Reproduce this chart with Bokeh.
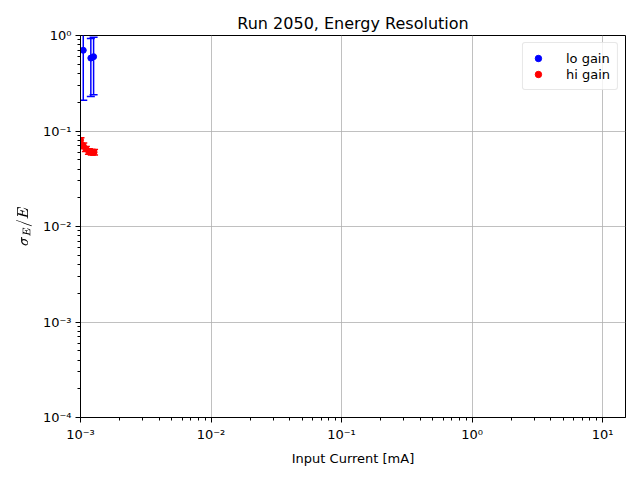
from bokeh.plotting import figure
from bokeh.models import (ColumnDataSource, Whisker, TeeHead, FixedTicker,
                          CustomJSTickFormatter, Range1d, Legend, LegendItem)
from bokeh.embed import file_html
from bokeh.resources import INLINE

# data
lo_x = [1.05e-3, 1.20e-3, 1.26e-3]
lo_y = [0.70, 0.58, 0.60]
lo_err = [0.49, 0.35, 0.36]

hi_x = [1.00e-3, 1.05e-3, 1.10e-3, 1.16e-3, 1.22e-3, 1.27e-3]
hi_y = [0.080, 0.070, 0.065, 0.061, 0.060, 0.060]
hi_err = [0.005, 0.005, 0.004, 0.004, 0.004, 0.004]

x_major = [1e-3, 1e-2, 1e-1, 1e0, 1e1]
y_major = [1e-4, 1e-3, 1e-2, 1e-1, 1e0]

def minors(lo, hi):
    out = []
    for e in range(lo, hi + 1):
        for m in range(2, 10):
            out.append(m * 10.0 ** e)
    return out

FONT = "DejaVu Sans"

p = figure(width=640, height=480, x_axis_type="log", y_axis_type="log",
           output_backend="svg", toolbar_location=None,
           x_range=Range1d(1e-3, 15.0), y_range=Range1d(1e-4, 1.0),
           min_border_left=80, min_border_right=15, min_border_top=35,
           min_border_bottom=63)
p.title.text = "Run 2050, Energy Resolution"
p.title.align = "center"
p.title.text_font = FONT
p.title.text_font_size = "16px"
p.title.text_font_style = "normal"
p.title.text_color = "black"
p.title.offset = 0
p.title.standoff = 6

fmt = CustomJSTickFormatter(code="""
const sup = {'-':'\u207b','0':'\u2070','1':'\u00b9','2':'\u00b2','3':'\u00b3','4':'\u2074','5':'\u2075','6':'\u2076','7':'\u2077','8':'\u2078','9':'\u2079'};
const e = Math.round(Math.log10(tick));
return '10' + String(e).split('').map(c => sup[c]).join('');
""")

p.xaxis.ticker = FixedTicker(ticks=x_major, minor_ticks=minors(-3, 1))
p.yaxis.ticker = FixedTicker(ticks=y_major, minor_ticks=minors(-4, 0))
for ax in (p.xaxis[0], p.yaxis[0]):
    ax.formatter = fmt
    ax.major_label_text_font = FONT
    ax.major_label_text_font_size = "13px"
    ax.axis_label_text_font = FONT
    ax.axis_label_text_font_size = "13px"
    ax.axis_label_text_font_style = "normal"
    ax.axis_label_text_color = "black"
    ax.major_tick_out = 5
    ax.major_tick_in = 0
    ax.minor_tick_out = 3
    ax.minor_tick_in = 0
    ax.axis_line_color = "black"
    ax.major_tick_line_color = "black"
    ax.minor_tick_line_color = "black"
    ax.major_label_text_color = "black"
    ax.major_label_standoff = 4

p.xaxis.axis_label = "Input Current [mA]"
p.xaxis.axis_label_standoff = 6
p.yaxis.axis_label = r"$$\sigma_E/E$$"
p.yaxis.axis_label_text_font_size = "12px"
p.yaxis.axis_label_standoff = 8
p.yaxis.major_label_orientation = "horizontal"

p.xgrid.ticker = FixedTicker(ticks=x_major)
p.ygrid.ticker = FixedTicker(ticks=y_major)
p.grid.grid_line_color = "#b0b0b0"
p.grid.grid_line_width = 0.8
p.outline_line_color = "black"
p.outline_line_width = 1

lo = ColumnDataSource(dict(x=lo_x, y=lo_y,
                           lower=[max(y - e, 1e-6) for y, e in zip(lo_y, lo_err)],
                           upper=[y + e for y, e in zip(lo_y, lo_err)]))
hi = ColumnDataSource(dict(x=hi_x, y=hi_y,
                           lower=[y - e for y, e in zip(hi_y, hi_err)],
                           upper=[y + e for y, e in zip(hi_y, hi_err)]))

for src, col in ((lo, "blue"), (hi, "red")):
    w = Whisker(source=src, base="x", lower="lower", upper="upper",
                dimension="height", line_color=col, line_width=1.5,
                upper_head=TeeHead(size=8, line_color=col, line_width=1.5),
                lower_head=TeeHead(size=8, line_color=col, line_width=1.5))
    p.add_layout(w)

r_lo = p.scatter("x", "y", source=lo, size=6, color="blue")
r_hi = p.scatter("x", "y", source=hi, size=6, color="red")

legend = Legend(items=[LegendItem(label="lo gain", renderers=[r_lo]),
                       LegendItem(label="hi gain", renderers=[r_hi])],
                location="top_right")
legend.label_text_font = FONT
legend.label_text_font_size = "13px"
legend.label_text_color = "black"
legend.border_line_color = "#d0d0d0"
legend.border_line_width = 1
legend.border_radius = 3
legend.background_fill_alpha = 0.8
legend.margin = 7
legend.padding = 7
legend.spacing = 0
legend.glyph_width = 16
legend.glyph_height = 16
legend.label_height = 16
legend.label_standoff = 20
p.add_layout(legend)

open("out.html", "w").write(file_html(p, INLINE))
